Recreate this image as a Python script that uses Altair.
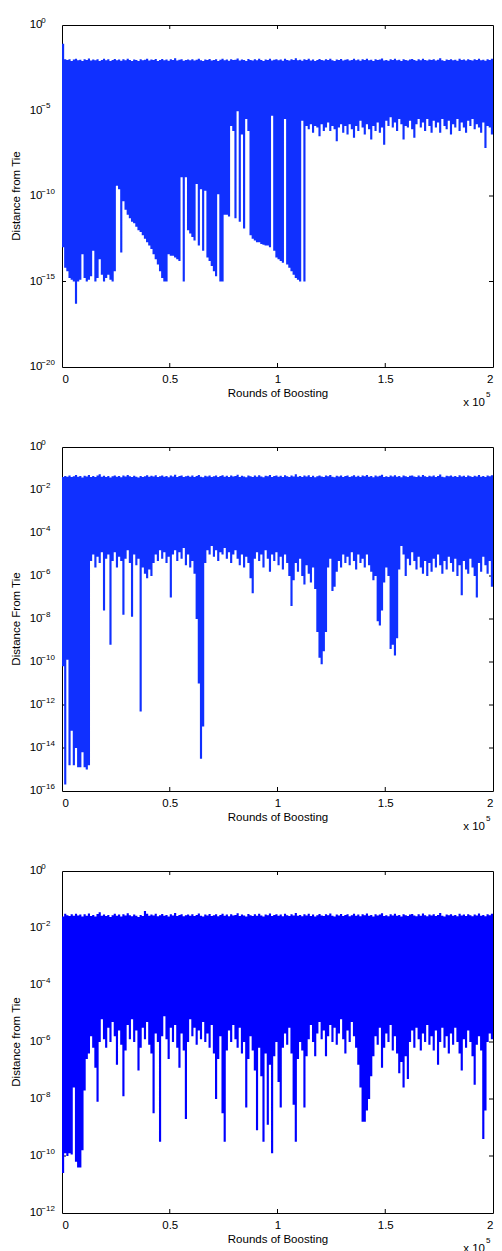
import altair as alt
import pandas as pd

# ---------------- data (exponents of 10, one value per 1000 rounds) ----------------
p1_hi = [
-1.1,-2.0,-2.05,-2.0,-2.1,-2.02,-1.97,-2.06,-2.03,-2.1,-2.0,-2.05,-1.96,-2.08,-2.02,-2.06,-2.0,-2.1,-2.04,-1.98,
-2.06,-2.01,-2.1,-2.04,-1.99,-2.06,-2.02,-2.09,-2.0,-2.06,-1.97,-2.04,-2.1,-2.02,-2.05,-2.11,-2.01,-2.06,-2.03,-1.97,
-2.07,-2.02,-2.05,-1.99,-2.1,-2.04,-1.99,-2.06,-2.02,-2.09,-2.01,-2.05,-1.95,-2.07,-2.03,-2.0,-2.09,-2.04,-2.02,-2.06,
-2.0,-2.08,-2.03,-1.97,-2.06,-2.1,-2.02,-2.05,-1.99,-2.07,-2.04,-2.0,-2.1,-2.03,-1.98,-2.06,-2.02,-2.09,-2.0,-2.05,
-2.03,-1.96,-2.07,-2.02,-2.05,-2.1,-1.99,-2.04,-2.08,-2.01,-2.06,-1.98,-2.05,-2.1,-2.02,-2.04,-1.97,-2.07,-2.03,-2.0,
-2.06,-2.02,-2.09,-1.98,-2.04,-2.07,-2.01,-2.05,-1.94,-2.06,-2.03,-2.09,-2.0,-2.05,-1.98,-2.07,-2.02,-2.1,-2.04,-1.99,
-2.05,-2.08,-2.01,-2.04,-1.97,-2.06,-2.1,-2.02,-2.05,-1.99,-2.07,-2.03,-2.0,-2.08,-2.04,-1.98,-2.06,-2.02,-2.09,-2.01,
-2.04,-1.97,-2.06,-2.03,-2.1,-2.0,-2.05,-2.02,-1.96,-2.07,-2.04,-2.09,-2.01,-2.05,-1.98,-2.06,-2.03,-2.1,-2.0,-2.04,
-2.07,-2.02,-1.99,-2.05,-2.09,-2.01,-2.06,-1.97,-2.04,-2.08,-2.02,-2.05,-2.0,-2.07,-2.03,-1.95,-2.06,-2.1,-2.02,-2.04,
-2.0,-2.06,-2.03,-2.09,-1.98,-2.05,-2.02,-2.07,-2.0,-2.04,-2.08,-2.01,-2.05,-1.97,-2.06,-2.03,-2.09,-2.0,-2.04,-1.98,
]
p1_lo = [
-13.0,-14.2,-14.4,-14.8,-14.9,-15.0,-16.3,-15.0,-14.9,-13.4,-14.8,-15.0,-14.9,-14.7,-13.2,-15.0,-14.8,-13.7,-14.6,-15.0,
-14.8,-14.6,-14.9,-15.0,-14.4,
-9.4,-9.6,-13.3,-10.3,-10.8,-11.1,-11.3,-11.5,-11.6,-11.8,-12.0,-12.1,-12.3,-12.5,-12.7,-12.9,-13.1,-13.4,-13.7,-14.0,
-14.4,-14.8,-15.0,-15.0,
-13.4,-13.5,-13.5,-13.6,-13.7,-13.8,-8.9,-15.0,-8.9,
-12.0,-12.2,-12.4,-12.6,-9.3,-12.9,-9.6,-13.2,-9.7,-13.6,-13.8,-14.1,-14.4,-14.7,-9.9,-15.0,-15.0,
-11.1,-11.1,-11.2,-5.9,-6.2,-11.3,-5.05,-11.5,-6.4,-11.9,-5.5,-6.2,-12.3,-12.5,-12.6,-12.7,-12.7,-12.8,-12.85,-12.9,
-12.9,-13.0,-5.3,-13.2,-13.6,-13.7,-13.8,-13.9,-5.5,-14.0,-14.2,-14.4,-14.6,-14.8,-14.9,-15.0,-5.6,-15.0,
-5.9,-6.1,-5.8,-6.3,-5.9,-6.0,-6.5,-5.8,-6.2,
-6.0,-5.7,-6.2,-5.9,-6.1,-6.8,-6.0,-5.8,-6.3,-5.9,
-6.4,-5.8,-6.1,-6.6,-5.9,-6.2,-5.6,-6.0,-6.4,-5.8,-6.1,-6.7,-5.9,-6.2,-5.7,-6.3,-6.0,-7.0,
-5.6,-5.9,-5.4,-6.0,-5.7,-6.2,-5.5,-5.8,-6.7,
-5.9,-6.0,-5.6,-6.1,-6.6,-5.8,-5.5,-6.0,-5.7,-6.2,-5.5,-5.9,-6.3,-5.6,
-6.0,-5.7,-6.3,-5.5,-5.9,-6.1,-5.6,-6.4,-5.8,-6.0,-5.5,-6.2,-5.7,-6.0,-6.3,-5.6,-5.9,-5.5,-6.1,-5.8,
-6.0,-6.3,-5.7,-7.2,-5.9,-6.0,-6.4,
]

p2_hi = [
-1.4,-1.35,-1.38,-1.33,-1.4,-1.36,-1.3,-1.38,-1.35,-1.42,-1.34,-1.37,-1.3,-1.39,-1.35,-1.4,-1.33,-1.27,-1.38,-1.34,
-1.39,-1.35,-1.42,-1.36,-1.32,-1.38,-1.35,-1.41,-1.33,-1.37,-1.3,-1.36,-1.4,-1.34,-1.38,-1.42,-1.35,-1.39,-1.36,-1.31,
-1.38,-1.34,-1.37,-1.31,-1.4,-1.36,-1.32,-1.38,-1.35,-1.41,-1.33,-1.37,-1.29,-1.39,-1.35,-1.33,-1.4,-1.36,-1.34,-1.38,
-1.33,-1.39,-1.35,-1.3,-1.38,-1.41,-1.34,-1.37,-1.32,-1.39,-1.36,-1.33,-1.4,-1.35,-1.31,-1.38,-1.34,-1.4,-1.33,-1.37,
-1.35,-1.29,-1.39,-1.34,-1.37,-1.41,-1.32,-1.36,-1.39,-1.33,-1.38,-1.31,-1.37,-1.41,-1.34,-1.36,-1.3,-1.39,-1.35,-1.33,
-1.38,-1.34,-1.4,-1.31,-1.36,-1.39,-1.33,-1.37,-1.27,-1.38,-1.35,-1.4,-1.33,-1.37,-1.31,-1.39,-1.34,-1.41,-1.36,-1.32,
-1.37,-1.39,-1.33,-1.36,-1.3,-1.38,-1.41,-1.34,-1.37,-1.32,-1.39,-1.35,-1.33,-1.4,-1.36,-1.31,-1.38,-1.34,-1.4,-1.33,
-1.36,-1.3,-1.38,-1.35,-1.41,-1.33,-1.37,-1.34,-1.29,-1.39,-1.36,-1.4,-1.33,-1.37,-1.31,-1.38,-1.35,-1.41,-1.33,-1.36,
-1.39,-1.34,-1.32,-1.37,-1.4,-1.33,-1.38,-1.3,-1.36,-1.4,-1.34,-1.37,-1.33,-1.39,-1.35,-1.28,-1.38,-1.41,-1.34,-1.36,
-1.33,-1.38,-1.35,-1.4,-1.31,-1.37,-1.34,-1.39,-1.33,-1.36,-1.4,-1.34,-1.37,-1.3,-1.38,-1.35,-1.4,-1.33,-1.36,-1.31,
]
p2_lo = [
-10.2,-15.7,-9.9,-14.8,-13.2,-14.8,-14.0,-14.9,-14.9,-14.2,-14.9,-15.0,-14.8,-5.3,-5.0,-5.6,-5.1,-5.4,-4.9,-7.6,
-5.2,-5.0,-9.2,-5.3,-4.9,-5.6,-5.1,-5.3,-7.8,-5.2,-4.8,-5.4,-7.9,-5.0,-5.5,-5.2,-12.3,-5.6,-5.9,-6.1,
-5.7,-6.0,-5.4,-5.0,-5.3,-4.8,-5.2,-4.9,-5.4,-5.1,-7.0,-5.0,-4.8,-5.3,-4.9,-5.2,-4.7,-5.5,-5.0,-5.6,
-5.3,-5.9,-8.0,-11.0,-14.5,-13.0,-5.4,-4.8,-5.0,-4.6,-5.1,-4.8,-5.3,-4.9,-5.0,-4.7,-5.2,-4.9,-5.4,-5.0,
-4.8,-5.2,-5.5,-5.0,-5.6,-5.1,-5.4,-6.1,-6.8,-5.2,-4.9,-5.3,-5.0,-5.6,-4.8,-5.2,-5.8,-5.0,-5.3,-4.9,
-5.5,-5.1,-5.7,-5.0,-5.4,-6.0,-7.4,-6.2,-5.4,-5.8,-5.2,-6.0,-6.4,-5.5,-5.9,-6.3,-5.6,-6.6,-8.6,-9.8,
-10.1,-9.5,-8.6,-5.6,-5.2,-6.7,-6.5,-5.8,-5.3,-5.6,-5.0,-5.4,-5.1,-5.5,-4.9,-5.3,-5.7,-5.0,-5.4,-5.2,
-5.6,-5.0,-5.5,-5.8,-6.2,-6.0,-8.1,-8.3,-7.6,-6.3,-5.6,-6.0,-9.4,-9.2,-9.7,-8.9,-5.7,-4.6,-5.0,-6.0,
-5.2,-5.5,-4.9,-5.3,-5.7,-5.1,-5.6,-5.9,-5.3,-6.0,-5.4,-5.8,-5.2,-5.6,-5.0,-5.5,-5.9,-5.3,-5.7,-5.1,
-5.4,-5.8,-5.2,-6.0,-5.5,-6.9,-5.3,-5.7,-5.9,-5.2,-5.6,-6.0,-7.0,-5.4,-5.8,-5.1,-5.5,-5.9,-5.3,-6.5,
]

p3_hi = [
-1.6,-1.5,-1.55,-1.58,-1.52,-1.57,-1.5,-1.56,-1.53,-1.6,-1.52,-1.57,-1.49,-1.58,-1.54,-1.6,-1.51,-1.45,-1.57,-1.53,
-1.58,-1.54,-1.61,-1.55,-1.5,-1.57,-1.53,-1.6,-1.52,-1.56,-1.48,-1.55,-1.59,-1.53,-1.57,-1.61,-1.54,-1.58,-1.4,-1.5,
-1.57,-1.53,-1.56,-1.5,-1.59,-1.55,-1.51,-1.57,-1.54,-1.6,-1.52,-1.56,-1.47,-1.58,-1.54,-1.52,-1.59,-1.55,-1.53,-1.57,
-1.52,-1.58,-1.54,-1.49,-1.57,-1.6,-1.53,-1.56,-1.51,-1.58,-1.55,-1.52,-1.59,-1.54,-1.5,-1.57,-1.53,-1.59,-1.52,-1.56,
-1.54,-1.48,-1.58,-1.53,-1.56,-1.6,-1.51,-1.55,-1.58,-1.52,-1.57,-1.5,-1.56,-1.6,-1.53,-1.55,-1.49,-1.58,-1.54,-1.52,
-1.57,-1.53,-1.59,-1.5,-1.55,-1.58,-1.52,-1.56,-1.47,-1.57,-1.54,-1.59,-1.52,-1.56,-1.5,-1.58,-1.53,-1.6,-1.55,-1.51,
-1.56,-1.58,-1.52,-1.55,-1.49,-1.57,-1.6,-1.53,-1.56,-1.51,-1.58,-1.54,-1.52,-1.59,-1.55,-1.5,-1.57,-1.53,-1.59,-1.52,
-1.55,-1.49,-1.57,-1.54,-1.6,-1.52,-1.56,-1.53,-1.48,-1.58,-1.55,-1.59,-1.52,-1.56,-1.5,-1.57,-1.54,-1.6,-1.52,-1.55,
-1.58,-1.53,-1.51,-1.56,-1.59,-1.52,-1.57,-1.49,-1.55,-1.59,-1.53,-1.56,-1.52,-1.58,-1.54,-1.47,-1.57,-1.6,-1.53,-1.55,
-1.52,-1.57,-1.54,-1.59,-1.5,-1.56,-1.53,-1.58,-1.52,-1.55,-1.59,-1.53,-1.56,-1.49,-1.57,-1.54,-1.59,-1.52,-1.55,-1.5,
]
p3_lo = [
-10.6,-9.9,-10.0,-9.9,-9.95,-7.6,-10.2,-10.4,-10.4,-9.8,-7.7,-6.6,-6.4,-5.8,-6.2,-6.9,-8.1,-6.0,-5.2,-5.9,
-6.2,-5.5,-6.0,-5.3,-5.8,-6.8,-5.6,-6.1,-7.9,-6.3,-5.4,-5.9,-5.2,-6.0,-5.6,-7.0,-6.2,-5.5,-5.9,-5.3,
-6.1,-6.4,-8.5,-5.7,-6.0,-9.5,-5.8,-5.1,-5.9,-6.6,-5.5,-6.0,-5.4,-6.2,-6.9,-5.7,-6.3,-8.7,-6.0,-5.2,
-5.8,-5.5,-6.1,-5.6,-5.9,-5.3,-6.0,-5.7,-6.2,-5.4,-6.4,-8.0,-6.6,-5.8,-8.5,-9.5,-6.3,-5.6,-6.0,-5.4,
-5.9,-6.2,-5.5,-6.4,-6.0,-8.3,-6.6,-5.8,-6.3,-7.0,-9.1,-6.2,-7.2,-9.5,-6.4,-8.9,-6.8,-9.9,-6.5,-6.0,
-7.4,-8.3,-6.2,-5.7,-6.1,-5.5,-6.4,-8.2,-9.5,-6.6,-6.0,-6.3,-8.3,-6.5,-5.9,-5.4,-6.0,-6.5,-5.7,-5.3,
-5.9,-5.6,-6.5,-5.8,-5.4,-6.0,-5.5,-6.1,-5.7,-5.2,-5.9,-6.4,-5.6,-6.0,-5.3,-5.8,-6.2,-6.8,-7.6,-8.8,
-8.8,-8.4,-8.0,-7.2,-6.5,-5.8,-6.1,-5.5,-6.9,-6.2,-5.7,-6.0,-5.4,-6.3,-5.8,-6.4,-7.1,-6.7,-7.6,-6.5,
-7.3,-6.0,-5.6,-6.2,-5.5,-5.9,-6.3,-5.7,-6.0,-5.4,-6.1,-5.8,-6.3,-5.6,-6.8,-6.0,-5.5,-6.2,-5.8,-6.4,
-5.7,-6.1,-5.5,-6.0,-6.4,-7.0,-5.9,-6.2,-5.6,-6.0,-6.5,-7.5,-6.1,-5.8,-6.3,-9.4,-8.4,-6.0,-5.7,-5.9,
]

p1_yticks = [0, -5, -10, -15, -20]
p2_yticks = [0, -2, -4, -6, -8, -10, -12, -14, -16]
p3_yticks = [0, -2, -4, -6, -8, -10, -12]
x_ticks = [0, 0.5, 1, 1.5, 2]
x_label = "Rounds of Boosting"
y_titles = ["Distance from Tie", "Distance From Tie", "Distance from Tie"]

# ---------------- chart ----------------
FONT = "Liberation Sans"
W = 431
SUP = str.maketrans("-", "\u2212")


def panel(hi, lo, color, ticks, ytitle, h):
    n = min(len(hi), len(lo))
    # step-after area: one step per 1000 rounds, closed at x = 2 (x 10^5)
    xs_ = [i / 100 for i in range(n)] + [n / 100]
    df = pd.DataFrame({"x": xs_, "hi": hi[:n] + [hi[n - 1]], "lo": lo[:n] + [lo[n - 1]]})
    ymin = min(ticks)
    xscale = alt.Scale(domain=[0, 2], nice=False, zero=False)
    yscale = alt.Scale(domain=[ymin, 0], nice=False, zero=False)
    xaxis = alt.Axis(values=x_ticks, format="~g", domain=False, ticks=False, grid=False,
                     labelFont=FONT, labelFontSize=11.5, labelColor="black",
                     labelPadding=6, labelFlush=True, labelOverlap=False,
                     title=x_label, titleFont=FONT, titleFontSize=11.5,
                     titleFontWeight="normal", titleColor="black", titlePadding=3)
    X = lambda: alt.X("x:Q", scale=xscale, axis=xaxis)
    Y = lambda f="hi": alt.Y(f + ":Q", scale=yscale, axis=None)

    inner_y = pd.DataFrame({"hi": [t for t in ticks if t not in (0, ymin)]})
    inner_x = pd.DataFrame({"x": [t for t in x_ticks if t not in (0, 2)]})
    lab = pd.DataFrame({"hi": ticks, "s": [str(t).translate(SUP) for t in ticks]})
    one = pd.DataFrame({"a": [0]})

    tl = alt.Chart(inner_y).mark_rule(color="black", strokeWidth=1).encode(
        x=alt.value(0), x2=alt.value(4), y=Y())
    tr = alt.Chart(inner_y).mark_rule(color="black", strokeWidth=1).encode(
        x=alt.value(W - 4), x2=alt.value(W), y=Y())
    tb = alt.Chart(inner_x).mark_rule(color="black", strokeWidth=1).encode(
        x=X(), y=alt.value(h - 4), y2=alt.value(h))
    tt = alt.Chart(inner_x).mark_rule(color="black", strokeWidth=1).encode(
        x=X(), y=alt.value(0), y2=alt.value(4))

    band = alt.Chart(df).mark_area(color=color, interpolate="step-after", clip=True,
                                   opacity=1).encode(
        x=X(), y=Y("hi"), y2="lo:Q")

    ten = alt.Chart(lab).mark_text(text="10", align="left", baseline="middle",
                                   font=FONT, fontSize=11.5, color="black").encode(
        x=alt.value(-32.3), y=Y())
    sup = alt.Chart(lab).mark_text(align="left", baseline="middle", dy=-4.5,
                                   font=FONT, fontSize=8, color="black").encode(
        x=alt.value(-20.7), y=Y(), text="s:N")
    yt = alt.Chart(one).mark_text(text=ytitle, angle=270, align="center", baseline="middle",
                                  font=FONT, fontSize=11.5, color="black").encode(
        x=alt.value(-45.5), y=alt.value(h / 2))
    xm = alt.Chart(one).mark_text(text="x 10", align="right", baseline="alphabetic",
                                  font=FONT, fontSize=11.5, color="black").encode(
        x=alt.value(W - 8), y=alt.value(h + 38.5))
    xs = alt.Chart(one).mark_text(text="5", align="left", baseline="alphabetic",
                                  font=FONT, fontSize=8, color="black").encode(
        x=alt.value(W - 7), y=alt.value(h + 30))

    return alt.layer(tl, tr, tb, tt, band, ten, sup, yt, xm, xs).properties(width=W, height=h)


c1 = panel(p1_hi, p1_lo, "#1030ff", p1_yticks, y_titles[0], 342)
c2 = panel(p2_hi, p2_lo, "#1030ff", p2_yticks, y_titles[1], 344)
c3 = panel(p3_hi, p3_lo, "#0000ff", p3_yticks, y_titles[2], 342)

chart = alt.vconcat(c1, c2, c3, spacing=80, bounds="flush").configure_view(
    stroke="black", strokeWidth=1
).properties(padding={"left": 2, "top": 8, "right": 0, "bottom": 0}, background="white")

chart.save("out.html", embed_options={"renderer": "svg", "actions": False})
